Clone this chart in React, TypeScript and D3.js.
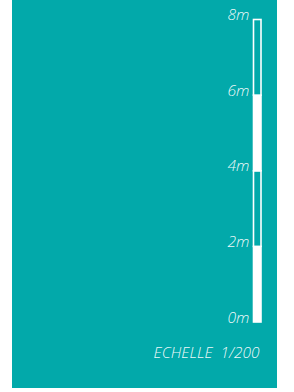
import React, { useEffect, useRef } from 'react'
import * as d3 from 'd3'

const ticks = [0, 2, 4, 6, 8]
const segments = [
  { from: 0, to: 2, filled: true },
  { from: 2, to: 4, filled: false },
  { from: 4, to: 6, filled: true },
  { from: 6, to: 8, filled: false },
]
const unit = 'm'
const caption = 'ECHELLE\u00a0\u00a01/200'

const W = 294
const H = 392
const teal = '#02a9aa'

const App = () => {
  const ref = useRef<SVGSVGElement>(null)

  useEffect(() => {
    const svg = d3.select(ref.current)
    svg.selectAll('*').remove()

    svg.append('rect').attr('width', W).attr('height', H).attr('fill', '#fff')
    svg.append('rect').attr('x', 12).attr('y', 0).attr('width', 265).attr('height', 388).attr('fill', teal)

    const y = d3.scaleLinear().domain([0, 8]).range([322, 19.5])
    const barX = 253.5
    const barW = 7.5

    svg
      .append('g')
      .selectAll('rect')
      .data(segments)
      .enter()
      .append('rect')
      .attr('x', barX)
      .attr('y', (d) => y(d.to))
      .attr('width', barW)
      .attr('height', (d) => y(d.from) - y(d.to))
      .attr('fill', (d) => (d.filled ? '#fff' : teal))
      .attr('stroke', '#fff')
      .attr('stroke-width', 1.6)

    const font = "'Open Sans', 'DejaVu Sans', sans-serif"

    // labels are stretched a bit, the original face is wider
    svg
      .append('g')
      .selectAll('text')
      .data(ticks)
      .enter()
      .append('text')
      .attr('x', 249.5)
      .attr('y', (d) => y(d) + 0.5)
      .attr('text-anchor', 'end')
      .attr('font-family', font)
      .attr('font-style', 'italic')
      .attr('font-weight', 300)
      .attr('font-size', 14.5)
      .attr('fill', '#fff')
      .attr('fill-opacity', 0.95)
      .attr('textLength', 22)
      .attr('lengthAdjust', 'spacingAndGlyphs')
      .text((d) => `${d}${unit}`)

    svg
      .append('text')
      .attr('x', 259.5)
      .attr('y', 357.5)
      .attr('text-anchor', 'end')
      .attr('font-family', font)
      .attr('font-style', 'italic')
      .attr('font-weight', 300)
      .attr('font-size', 14)
      .attr('fill', '#fff')
      .attr('fill-opacity', 0.95)
      .attr('textLength', 106)
      .attr('lengthAdjust', 'spacingAndGlyphs')
      .text(caption)
  })

  return (
    <svg
      ref={ref}
      width={W}
      height={H}
      style={{ position: 'fixed', left: 0, top: 0, display: 'block' }}
    />
  )
}

export default App
